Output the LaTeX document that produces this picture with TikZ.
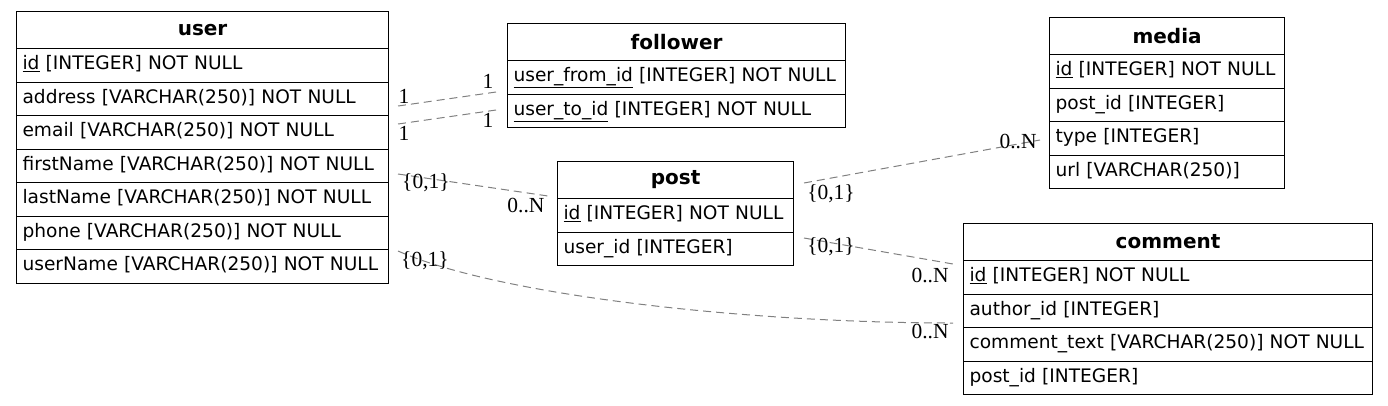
\documentclass[tikz,border=0pt]{standalone}
\usepackage{fontspec}
\setmainfont{Liberation Serif}
\newfontfamily\dvs{DejaVu Sans}
\begin{document}
\begin{tikzpicture}[x=1pt,y=-1pt,
  hdr/.style={draw, line width=1.1pt, anchor=north west, inner sep=0pt,
    minimum height=37pt, font=\dvs\bfseries\fontsize{20}{24}\selectfont},
  fld/.style={draw, line width=1.1pt, anchor=north west, inner xsep=6pt, inner ysep=0pt,
    minimum height=33.5pt, align=left, text width=#1, text height=14pt, text depth=5pt,
    font=\dvs\fontsize{18.6}{22}\selectfont},
  rel/.style={draw=gray, line width=1pt, dash pattern=on 8pt off 5pt},
  lab/.style={inner sep=0pt, font=\fontsize{21.5}{24}\selectfont}]
\useasboundingbox (0,0) rectangle (1388,405);
% user
\node[hdr, minimum width=372pt] (user) at (16,11) {user};
\node[fld=360pt] (user-id) at (16,48) {\underline{id} [INTEGER] NOT NULL};
\node[fld=360pt] (user-address) at (16,81.5) {address [VARCHAR(250)] NOT NULL};
\node[fld=360pt] (user-email) at (16,115) {email [VARCHAR(250)] NOT NULL};
\node[fld=360pt] (user-first) at (16,148.5) {firstName [VARCHAR(250)] NOT NULL};
\node[fld=360pt] (user-last) at (16,182) {lastName [VARCHAR(250)] NOT NULL};
\node[fld=360pt] (user-phone) at (16,215.5) {phone [VARCHAR(250)] NOT NULL};
\node[fld=360pt] (user-name) at (16,249) {userName [VARCHAR(250)] NOT NULL};
% follower
\node[hdr, minimum width=338pt] (follower) at (507,23) {follower};
\node[fld=326pt] (fol-from) at (507,60) {\underline{user\_from\_id} [INTEGER] NOT NULL};
\node[fld=326pt] (fol-to) at (507,93.5) {\underline{user\_to\_id} [INTEGER] NOT NULL};
% post
\node[hdr, minimum width=236pt] (post) at (557,161) {post};
\node[fld=224pt] (post-id) at (557,198) {\underline{id} [INTEGER] NOT NULL};
\node[fld=224pt] (post-user) at (557,231.5) {user\_id [INTEGER]};
% media
\node[hdr, minimum width=235pt] (media) at (1049,17) {media};
\node[fld=223pt] (media-id) at (1049,54) {\underline{id} [INTEGER] NOT NULL};
\node[fld=223pt] (media-post) at (1049,87.5) {post\_id [INTEGER]};
\node[fld=223pt] (media-type) at (1049,121) {type [INTEGER]};
\node[fld=223pt] (media-url) at (1049,154.5) {url [VARCHAR(250)]};
% comment
\node[hdr, minimum width=409pt] (comment) at (963,223) {comment};
\node[fld=397pt] (com-id) at (963,260) {\underline{id} [INTEGER] NOT NULL};
\node[fld=397pt] (com-author) at (963,293.5) {author\_id [INTEGER]};
\node[fld=397pt] (com-text) at (963,327) {\mbox{comment\_text [VARCHAR(250)] NOT NULL}};
\node[fld=397pt] (com-post) at (963,360.5) {post\_id [INTEGER]};
% connector end points
\coordinate (a1) at (398,106);  \coordinate (b1) at (496,92);
\coordinate (a2) at (398,124);  \coordinate (b2) at (496,110);
\coordinate (a3) at (398,174);  \coordinate (b3) at (548,196);
\coordinate (a4) at (398,251);  \coordinate (b4) at (953,323);
\coordinate (a5) at (804,238);  \coordinate (b5) at (953,264);
\coordinate (a6) at (804,183);  \coordinate (b6) at (1040,140);
\draw[rel] (a1) -- (b1);
\draw[rel] (a2) -- (b2);
\draw[rel] (a3) -- (b3);
\draw[rel] (a4) .. controls (500,296) and (750,323) .. (b4);
\draw[rel] (a5) -- (b5);
\draw[rel] (a6) -- (b6);
% labels
\node[lab] (l1a) at (404,96) {1};
\node[lab] (l1b) at (488,81) {1};
\node[lab] (l2a) at (404,133) {1};
\node[lab] (l2b) at (488,120) {1};
\node[lab] (l3a) at (426,183) {\{0,1\}};
\node[lab] (l3b) at (526,205) {0..N};
\node[lab] (l4a) at (425,261) {\{0,1\}};
\node[lab] (l4b) at (930,331) {0..N};
\node[lab] (l5a) at (831,247) {\{0,1\}};
\node[lab] (l5b) at (930,275) {0..N};
\node[lab] (l6a) at (831,194) {\{0,1\}};
\node[lab] (l6b) at (1018,141) {0..N};
\end{tikzpicture}
\end{document}
